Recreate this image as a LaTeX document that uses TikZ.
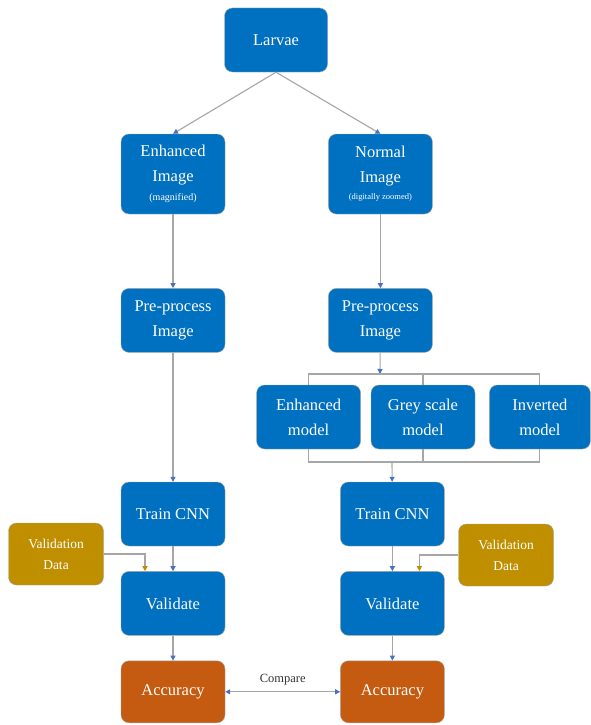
\documentclass[tikz,border=0pt]{standalone}
\usepackage{fontspec}
\setmainfont{Liberation Serif}
\usepackage{tikz}
\usetikzlibrary{positioning, arrows.meta, calc}
\definecolor{boxblue}{HTML}{0070C0}
\definecolor{boxgold}{HTML}{BF8F00}
\definecolor{boxrust}{HTML}{C55A11}
\definecolor{lineg}{HTML}{A6A6A6}
\definecolor{tipblue}{HTML}{4472C4}

\begin{document}
\begin{tikzpicture}[x=1pt, y=-1pt,
  font=\fontsize{16.5}{25}\selectfont,
  bx/.style={draw=gray!70, fill=boxblue, text=white, rounded corners=8pt, align=center,
    minimum width=104pt, minimum height=64pt, inner sep=2pt},
  vd/.style={bx, fill=boxgold, minimum width=95pt, minimum height=62pt, font=\fontsize{13.5}{21}\selectfont},
  acc/.style={bx, fill=boxrust, minimum height=62pt},
  ln/.style={draw=lineg, line width=1.1pt},
  arr/.style={ln, -{Triangle[length=5pt,width=5pt,color=tipblue]}},
  darr/.style={ln, {Triangle[length=5pt,width=5pt,color=tipblue]}-{Triangle[length=5pt,width=5pt,color=tipblue]}},
  garr/.style={ln, -{Triangle[length=5pt,width=5pt,color=boxgold]}}]
\useasboundingbox (0,0) rectangle (590,725);

\node[bx, minimum width=103pt](larvae) at (276,40) {Larvae};
\node[bx, minimum height=80pt](enh) at (173,174) {Enhanced\\Image\\[-6pt]{\fontsize{10}{12}\selectfont (magnified)}};
\node[bx, minimum height=80pt, right=103pt of enh](norm) {Normal\\Image\\[-8pt]{\fontsize{8.5}{10}\selectfont (digitally zoomed)}};
\node[bx, below=74pt of enh](pre1) {Pre-process\\Image};
\node[bx, below=74pt of norm](pre2) {Pre-process\\Image};

\node[bx](gsm) at (423,417) {Grey scale\\model};
\node[bx, left=10pt of gsm](enm) {Enhanced\\model};
\node[bx, right=14pt of gsm, minimum width=101pt](inv) {Inverted\\model};

\node[bx](train1) at (173,514) {Train CNN};
\node[bx, right=115pt of train1](train2) {Train CNN};
\node[bx, below=25pt of train1](val1) {Validate};
\node[bx, below=25pt of train2](val2) {Validate};
\node[acc, below=25pt of val1](acc1) {Accuracy};
\node[acc, below=25pt of val2](acc2) {Accuracy};

\node[vd](vd1) at (56,554) {Validation\\Data};
\node[vd](vd2) at (506,555) {Validation\\Data};

\coordinate (btop) at (380,374);
\coordinate (bbot) at (392,462);

\draw[arr](larvae.south)--(enh.north);
\draw[arr](larvae.south)--(norm.north);
\draw[arr](enh)--(pre1);
\draw[arr](norm)--(pre2);
\draw[arr](pre1)--(train1);

% split into the three models
\draw[arr](pre2)--(btop);
\draw[ln](enm.north)--(enm.north|-btop)--(inv.north|-btop)--(inv.north);
\draw[ln](gsm.north)--(gsm.north|-btop);
\draw[ln](enm.south)--(enm.south|-bbot)--(inv.south|-bbot)--(inv.south);
\draw[ln](gsm.south)--(gsm.south|-bbot);
\draw[arr](bbot)--(train2);

\draw[arr](train1)--(val1);
\draw[arr](train2)--(val2);
\draw[garr](vd1.east)-|([xshift=-28pt]val1.north);
\draw[garr](vd2.west)-|([xshift=27pt]val2.north);
\draw[arr](val1)--(acc1);
\draw[arr](val2)--(acc2);
\draw[darr](acc1)--node[above=3pt, font=\fontsize{12.5}{14}\selectfont, text=black!80]{Compare}(acc2);

\end{tikzpicture}
\end{document}
